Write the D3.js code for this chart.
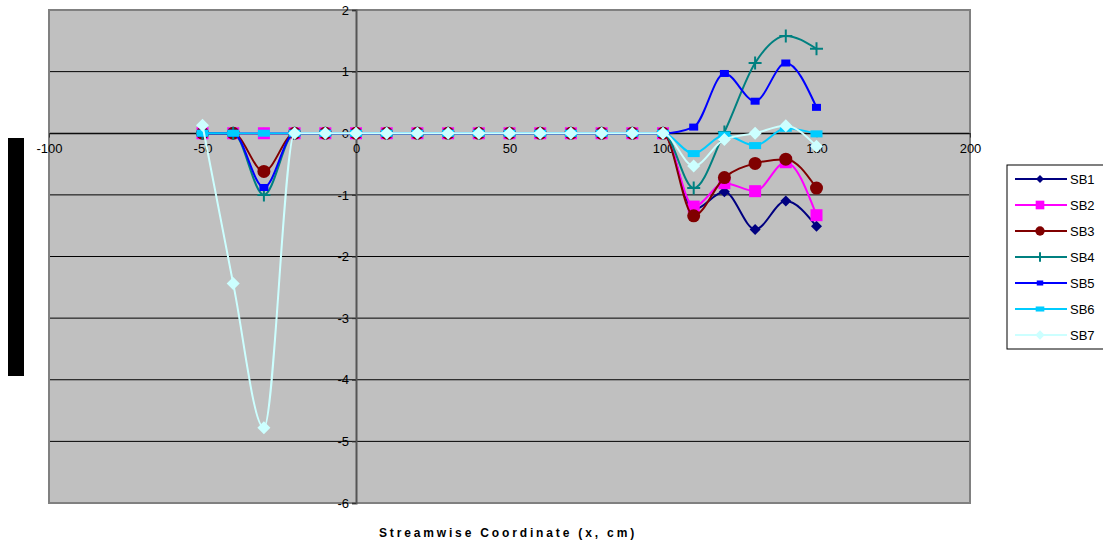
<!DOCTYPE html>
<html>
<head>
<meta charset="utf-8">
<script src="https://cdn.jsdelivr.net/npm/d3@7"></script>
<style>
  html, body { margin: 0; padding: 0; background: #fff; }
  svg { display: block; font-family: "Liberation Sans", Arial, sans-serif; }
</style>
</head>
<body>
<svg id="chart" width="1103" height="546"></svg>
<script>
// Streamwise positions (cm)
const xPositions = [-50, -40, -30, -20, -10, 0, 10, 20, 30, 40, 50, 60, 70, 80, 90, 100, 110, 120, 130, 140, 150];

// Series values at each streamwise position
const sb1 = [0, 0, 0, 0, 0, 0, 0, 0, 0, 0, 0, 0, 0, 0, 0, 0, -1.24, -0.95, -1.56, -1.10, -1.51];
const sb2 = [0, 0, 0, 0, 0, 0, 0, 0, 0, 0, 0, 0, 0, 0, 0, 0, -1.19, -0.81, -0.94, -0.47, -1.33];
const sb3 = [0, 0, -0.62, 0, 0, 0, 0, 0, 0, 0, 0, 0, 0, 0, 0, 0, -1.34, -0.72, -0.49, -0.42, -0.89];
const sb4 = [0, 0, -1.0, 0, 0, 0, 0, 0, 0, 0, 0, 0, 0, 0, 0, 0, -0.89, 0.02, 1.14, 1.58, 1.37];
const sb5 = [0, 0, -0.88, 0, 0, 0, 0, 0, 0, 0, 0, 0, 0, 0, 0, 0, 0.10, 0.97, 0.52, 1.14, 0.42];
const sb6 = [0, 0, 0, 0, 0, 0, 0, 0, 0, 0, 0, 0, 0, 0, 0, 0, -0.33, -0.03, -0.20, 0.08, -0.01];
const sb7 = [0.13, -2.44, -4.78, 0, 0, 0, 0, 0, 0, 0, 0, 0, 0, 0, 0, 0, -0.53, -0.10, 0.0, 0.12, -0.21];

const seriesNames = ["SB1", "SB2", "SB3", "SB4", "SB5", "SB6", "SB7"];
const seriesValues = [sb1, sb2, sb3, sb4, sb5, sb6, sb7];

const xTicks = [-100, -50, 0, 50, 100, 150, 200];
const yTicks = [-6, -5, -4, -3, -2, -1, 0, 1, 2];

// Styling per series
const styles = [
  { color: "#000080", marker: "diamond", size: 11 },
  { color: "#ff00ff", marker: "square", w: 12, h: 12 },
  { color: "#800000", marker: "circle", r: 6.5 },
  { color: "#008080", marker: "plus", size: 13 },
  { color: "#0000ff", marker: "square", w: 9, h: 7 },
  { color: "#00ccff", marker: "square", w: 12, h: 7 },
  { color: "#ccffff", marker: "diamond", size: 13 }
];

const svg = d3.select("#chart");
const plot = { left: 49, right: 970, top: 10, bottom: 503 };

const x = d3.scaleLinear().domain([-100, 200]).range([plot.left, plot.right]);
const y = d3.scaleLinear().domain([-6, 2]).range([plot.bottom, plot.top]);

// Plot background
svg.append("rect")
  .attr("x", plot.left).attr("y", plot.top)
  .attr("width", plot.right - plot.left).attr("height", plot.bottom - plot.top)
  .attr("fill", "#c0c0c0");

// Horizontal gridlines
svg.append("g").selectAll("line")
  .data(yTicks.filter(d => d > -6 && d < 2))
  .join("line")
  .attr("x1", plot.left).attr("x2", plot.right)
  .attr("y1", d => y(d)).attr("y2", d => y(d))
  .attr("stroke", "#000").attr("stroke-width", 1);

// Plot border
svg.append("rect")
  .attr("x", plot.left).attr("y", plot.top)
  .attr("width", plot.right - plot.left).attr("height", plot.bottom - plot.top)
  .attr("fill", "none").attr("stroke", "#808080").attr("stroke-width", 2);

// Y axis through x = 0
const yAxis = d3.axisLeft(y).tickValues(yTicks).tickSize(4).tickPadding(3)
  .tickFormat(d => d < 0 ? "-" + Math.abs(d) : String(d));
const gy = svg.append("g").attr("transform", `translate(${x(0)},0)`).call(yAxis);
gy.select(".domain").attr("stroke", "#555").attr("stroke-width", 2);
gy.selectAll(".tick line").attr("stroke", "#333");
gy.selectAll(".tick text").attr("font-size", 13).attr("fill", "#000")
  .style("font-family", "'Liberation Sans', Arial, sans-serif");

// X axis through y = 0
const xAxis = d3.axisBottom(x).tickValues(xTicks).tickSize(4).tickPadding(7)
  .tickFormat(d => d < 0 ? "-" + Math.abs(d) : String(d));
const gx = svg.append("g").attr("transform", `translate(0,${y(0)})`).call(xAxis);
gx.select(".domain").attr("stroke", "#000").attr("stroke-width", 1);
gx.selectAll(".tick line").attr("stroke", "#333");
gx.selectAll(".tick text").attr("font-size", 13).attr("fill", "#000")
  .style("font-family", "'Liberation Sans', Arial, sans-serif");

// Axis title
svg.append("text")
  .attr("x", 508).attr("y", 537)
  .attr("text-anchor", "middle")
  .attr("font-size", 12).attr("font-weight", "bold")
  .attr("letter-spacing", "2.85px")
  .text("Streamwise Coordinate (x, cm)");

// Vertical title block
svg.append("rect")
  .attr("x", 8).attr("y", 138).attr("width", 16).attr("height", 238)
  .attr("fill", "#000");

// Marker drawing helper (k scales the marker)
function drawMarker(g, s, cx, cy, k = 1) {
  if (s.marker === "diamond") {
    const h = s.size * k / 2;
    g.append("path")
      .attr("d", `M${cx},${cy - h}L${cx + h},${cy}L${cx},${cy + h}L${cx - h},${cy}Z`)
      .attr("fill", s.color);
  } else if (s.marker === "square") {
    g.append("rect")
      .attr("x", cx - s.w * k / 2).attr("y", cy - s.h * k / 2)
      .attr("width", s.w * k).attr("height", s.h * k)
      .attr("fill", s.color);
  } else if (s.marker === "circle") {
    g.append("circle").attr("cx", cx).attr("cy", cy).attr("r", s.r * k).attr("fill", s.color);
  } else if (s.marker === "plus") {
    const h = s.size * k / 2;
    g.append("path")
      .attr("d", `M${cx - h},${cy}H${cx + h}M${cx},${cy - h}V${cy + h}`)
      .attr("stroke", s.color).attr("stroke-width", 2).attr("fill", "none");
  }
}

const line = d3.line()
  .x(d => x(d[0]))
  .y(d => y(d[1]))
  .curve(d3.curveMonotoneX);

const series = svg.append("g");
seriesValues.forEach((vals, i) => {
  const s = styles[i];
  const pts = xPositions.map((xv, j) => [xv, vals[j]]);
  const g = series.append("g");
  g.append("path")
    .attr("d", line(pts))
    .attr("fill", "none")
    .attr("stroke", s.color)
    .attr("stroke-width", 2);
  pts.forEach(p => drawMarker(g, s, x(p[0]), y(p[1])));
});

// Legend
const legend = svg.append("g");
legend.append("rect")
  .attr("x", 1007).attr("y", 165).attr("width", 110).attr("height", 184)
  .attr("fill", "#fff").attr("stroke", "#000").attr("stroke-width", 1);
seriesNames.forEach((name, i) => {
  const s = styles[i];
  const ly = 179 + i * 26;
  const g = legend.append("g");
  g.append("line").attr("x1", 1015).attr("x2", 1067).attr("y1", ly).attr("y2", ly)
    .attr("stroke", s.color).attr("stroke-width", 2);
  drawMarker(g, s, 1040, ly, 0.72);
  g.append("text").attr("x", 1070).attr("y", ly + 5)
    .attr("font-size", 13).attr("fill", "#000").text(name);
});
</script>
</body>
</html>
